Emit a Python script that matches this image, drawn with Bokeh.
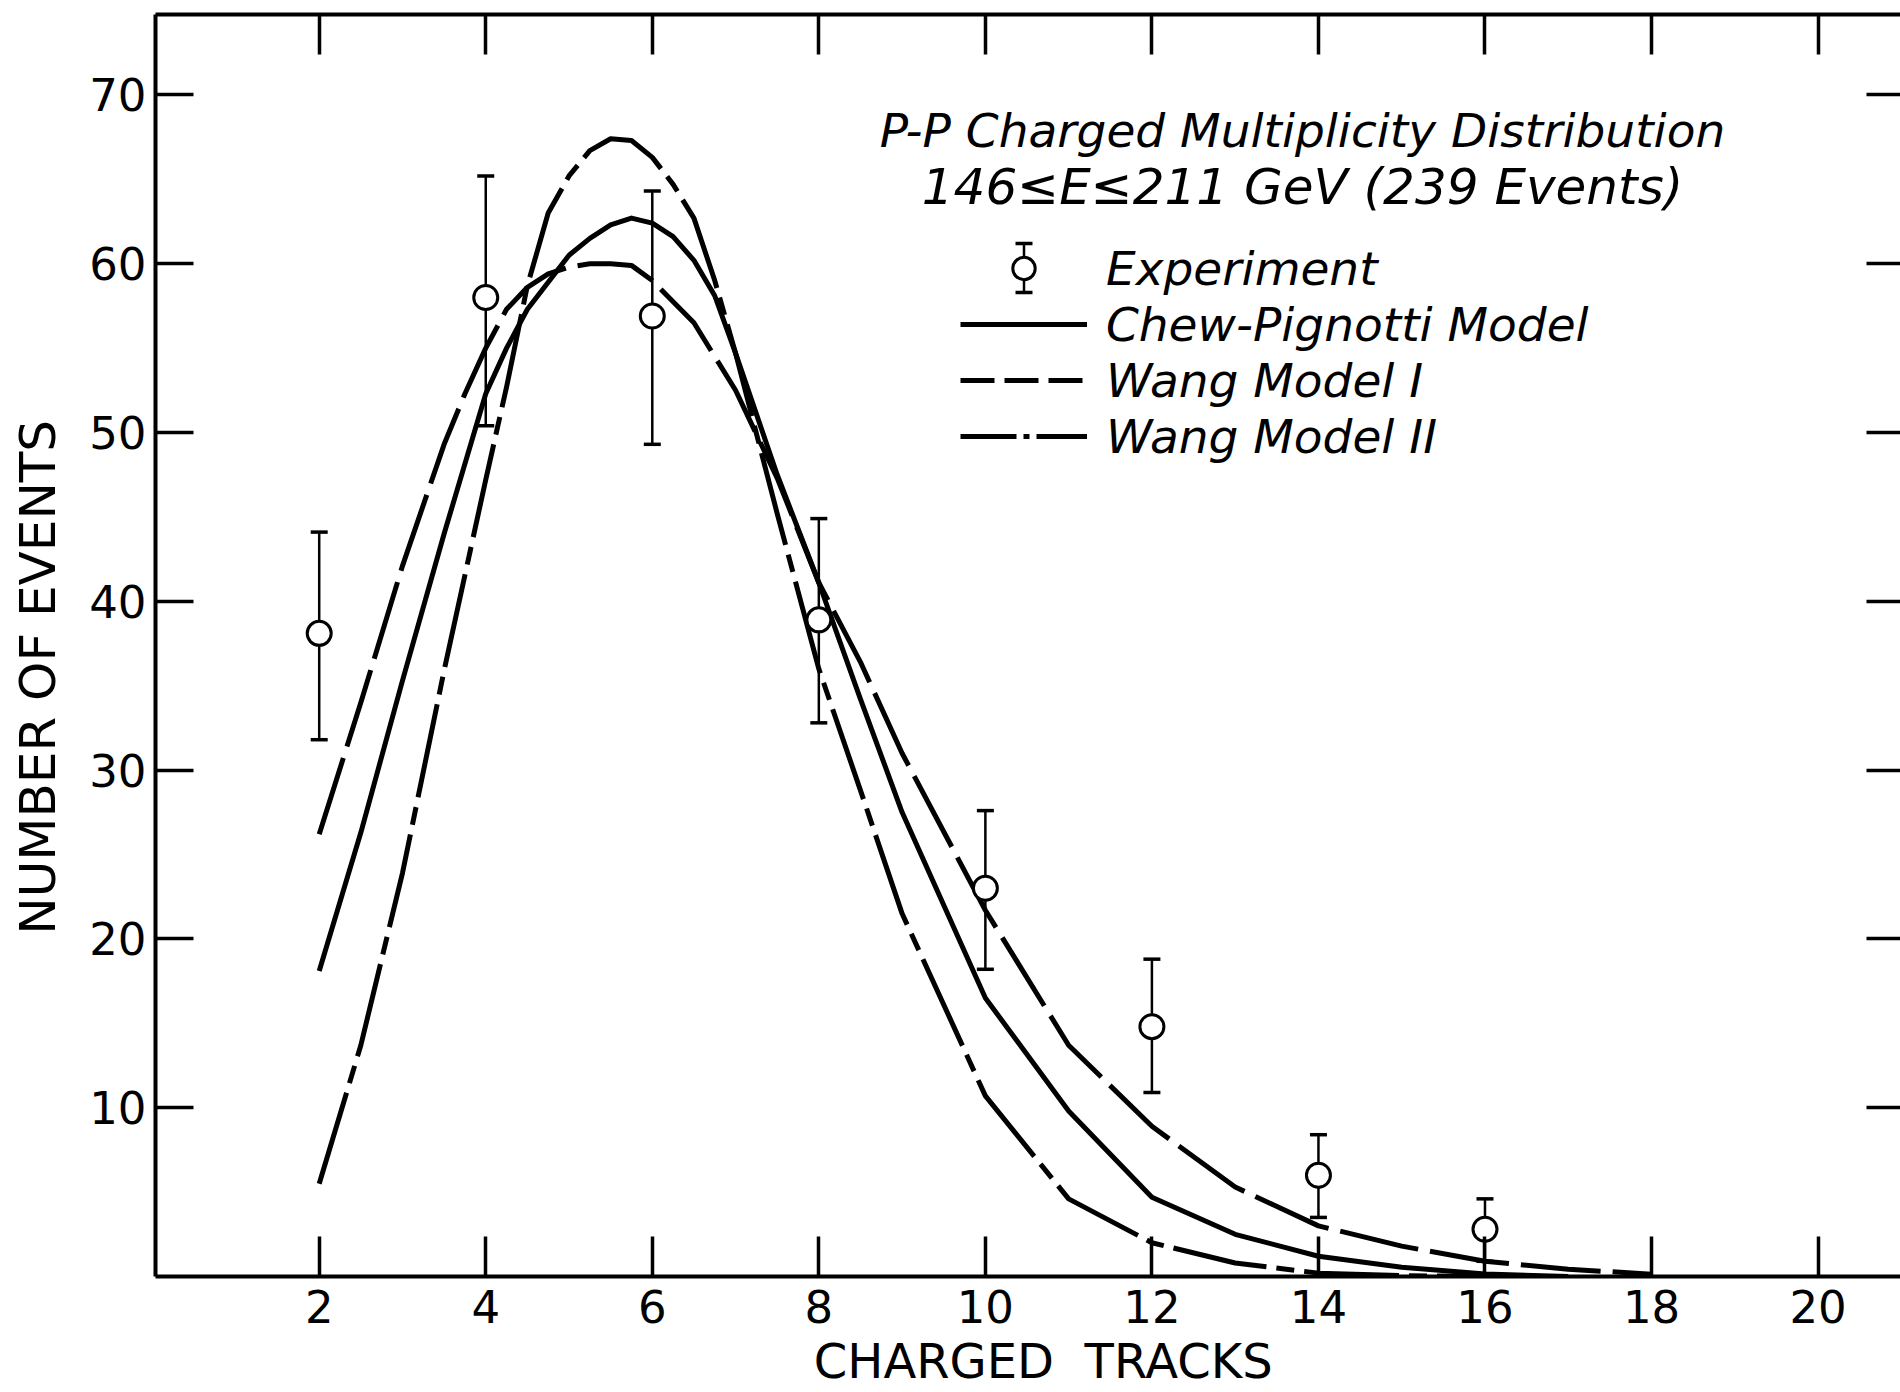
import math
from bokeh.plotting import figure
from bokeh.models import (Range1d, LinearAxis, FixedTicker, ColumnDataSource,
                          Whisker, TeeHead, Label, Legend, LegendItem)
from bokeh.embed import file_html
from bokeh.resources import INLINE

# ---------------- data ----------------
tracks = [2, 4, 6, 8, 10, 12, 14, 16]
events = [38.1, 58.0, 56.9, 38.9, 23.0, 14.8, 6.0, 2.8]
events_upper = [44.1, 65.2, 64.3, 44.9, 27.6, 18.8, 8.4, 4.6]
events_lower = [31.8, 50.4, 49.3, 32.8, 18.2, 10.9, 3.5, 0.9]

cp_x = [2, 2.5, 3, 3.5, 4, 4.25, 4.5, 4.75, 5, 5.25, 5.5, 5.75, 6, 6.25, 6.5, 6.75,
        7, 7.5, 8, 8.5, 9, 10, 11, 12, 13, 14, 15, 16, 17]
cp_y = [18.1, 26.3, 35.3, 44.0, 52.3, 55.0, 57.3, 58.9, 60.5, 61.5, 62.3, 62.7,
        62.4, 61.6, 60.2, 58.1, 54.7, 47.5, 41.1, 34.2, 27.5, 16.5, 9.8, 4.7,
        2.5, 1.2, 0.55, 0.15, 0.0]

wang1_x = [2, 2.5, 3, 3.5, 3.75, 4, 4.25, 4.5, 4.75, 5, 5.25, 5.5, 5.75, 6, 6.5,
           7, 7.5, 8, 8.5, 9, 10, 11, 12, 13, 14, 15, 16, 17, 18]
wang1_y = [26.2, 34.0, 42.1, 49.3, 52.3, 55.0, 57.3, 58.6, 59.4, 59.8, 60.0, 60.0,
           59.9, 59.0, 56.5, 52.5, 47.3, 41.1, 36.4, 31.0, 21.7, 13.7, 8.9, 5.3,
           3.0, 1.8, 0.9, 0.43, 0.14]

wang2_x = [2, 2.5, 3, 3.5, 4, 4.25, 4.5, 4.75, 5, 5.25, 5.5, 5.75, 6, 6.25, 6.5,
           6.75, 7, 7.5, 8, 8.5, 9, 10, 11, 12, 13, 14, 15, 16]
wang2_y = [5.5, 13.7, 23.9, 35.9, 47.2, 52.7, 58.7, 63.0, 65.2, 66.7, 67.4, 67.3,
           66.3, 64.7, 62.7, 59.0, 54.7, 45.2, 36.0, 28.8, 21.5, 10.7, 4.6, 2.0,
           0.8, 0.2, 0.05, 0.0]

x_ticks = [2, 4, 6, 8, 10, 12, 14, 16, 18, 20]
y_ticks = [10, 20, 30, 40, 50, 60, 70]

NBSP = "\u00a0"
title_line1 = "P-P Charged Multiplicity Distribution"
title_line2 = "146≤E≤211 GeV (239 Events)"
x_title = "CHARGED" + NBSP * 2 + "TRACKS"
y_title = "NUMBER OF EVENTS"
labels = ["Experiment", "Chew-Pignotti Model", "Wang Model I", "Wang Model II"]

# ---------------- layout ----------------
FONT = "DejaVu Sans"
W, H = 1900, 1392
BL, BR, BT, BB = 155, 0, 14, 116
PX_PER_X = 83.27
PX_PER_Y = 16.88
X0 = 0.034
X1 = X0 + (W - BL - BR) / PX_PER_X
Y0 = 0.0
Y1 = (H - BT - BB) / PX_PER_Y
FW = W - BL - BR
FH = H - BT - BB


def dx(px):
    return X0 + (px - BL) / FW * (X1 - X0)


def dy(py):
    return Y0 + (H - BB - py) / FH * (Y1 - Y0)


p = figure(width=W, height=H, x_range=Range1d(X0, X1), y_range=Range1d(Y0, Y1),
           output_backend="svg", toolbar_location=None,
           min_border_left=BL, min_border_right=BR,
           min_border_top=BT, min_border_bottom=BB)
p.outline_line_color = None
p.xgrid.visible = False
p.ygrid.visible = False
p.background_fill_color = "white"
p.border_fill_color = "white"


def style_axis(ax, tick_in, show_labels=True, line=True):
    ax.axis_line_width = 4
    ax.axis_line_color = "black" if line else None
    ax.major_tick_line_width = 3.5
    ax.major_tick_line_color = "black"
    ax.major_tick_in = tick_in
    ax.major_tick_out = 0
    ax.minor_tick_in = 0
    ax.minor_tick_out = 0
    ax.minor_tick_line_color = None
    ax.major_label_text_font = FONT
    if show_labels:
        ax.major_label_text_font_size = "45px"
        ax.major_label_text_color = "black"
    else:
        ax.major_label_text_font_size = "1px"
        ax.major_label_text_color = None
        ax.major_label_standoff = 0


xb = p.xaxis[0]
xb.ticker = FixedTicker(ticks=x_ticks)
style_axis(xb, 40)
xb.major_label_standoff = 13
# two leading no-break spaces nudge the centred title to the right, as in the original
xb.axis_label = NBSP * 2 + x_title
xb.axis_label_text_font = FONT
xb.axis_label_text_font_size = "48px"
xb.axis_label_text_font_style = "normal"
xb.axis_label_text_color = "black"
xb.axis_label_standoff = 7

yl = p.yaxis[0]
yl.ticker = FixedTicker(ticks=y_ticks)
style_axis(yl, 38)
yl.major_label_standoff = 9
# trailing no-break spaces move the centred title down a little, as in the original
yl.axis_label = y_title + NBSP * 4
yl.axis_label_text_font = FONT
yl.axis_label_text_font_size = "50px"
yl.axis_label_text_font_style = "normal"
yl.axis_label_text_color = "black"
yl.axis_label_standoff = 19

xt = LinearAxis(ticker=FixedTicker(ticks=x_ticks))
style_axis(xt, 40, show_labels=False)
p.add_layout(xt, "above")

yr = LinearAxis(ticker=FixedTicker(ticks=y_ticks))
style_axis(yr, 34, show_labels=False, line=False)
p.add_layout(yr, "right")

# ---------------- curves ----------------
LW = 5
r_cp = p.line(cp_x, cp_y, line_color="black", line_width=LW, line_join="round")
r_w1 = p.line(wang1_x, wang1_y, line_color="black", line_width=LW, line_dash="80 12",
              line_join="round")
r_w2 = p.line(wang2_x, wang2_y, line_color="black", line_width=LW,
              line_dash="95 10 18 10", line_join="round")

# ---------------- experiment ----------------
src = ColumnDataSource(dict(x=tracks, y=events, upper=events_upper, lower=events_lower))
whisk = Whisker(source=src, base="x", upper="upper", lower="lower", dimension="height",
                line_color="black", line_width=2.5, level="underlay",
                upper_head=TeeHead(size=17, line_width=3.5, line_color="black"),
                lower_head=TeeHead(size=17, line_width=3.5, line_color="black"))
p.add_layout(whisk)
r_exp = p.scatter("x", "y", source=src, marker="circle", size=24,
                  fill_color="white", line_color="black", line_width=3)

# legend-only proxies (the key uses shorter dash patterns)
nan = float("nan")
px_w1 = p.line([nan], [nan], line_color="black", line_width=LW, line_dash="34 10")
px_w2 = p.line([nan], [nan], line_color="black", line_width=LW, line_dash="56 7 6 7")

# ---------------- legend ----------------
LEG_LEFT = 960
LEG_TOP = 240
ROW_H = 56
GLYPH_W = 127
legend = Legend(items=[LegendItem(label=labels[0], renderers=[r_exp]),
                       LegendItem(label=labels[1], renderers=[r_cp]),
                       LegendItem(label=labels[2], renderers=[px_w1]),
                       LegendItem(label=labels[3], renderers=[px_w2])],
                location=(LEG_LEFT - BL, (H - BB) - (LEG_TOP + 4 * ROW_H)),
                orientation="vertical", glyph_width=GLYPH_W, glyph_height=ROW_H,
                label_height=ROW_H, label_standoff=19, spacing=0, padding=0, margin=0,
                border_line_color=None, background_fill_alpha=0,
                label_text_font=FONT, label_text_font_size="47px",
                label_text_font_style="italic", label_text_color="black")
p.add_layout(legend)

# error bar on the key's experiment symbol
leg_src = ColumnDataSource(dict(x=[dx(LEG_LEFT + GLYPH_W / 2)],
                                upper=[dy(LEG_TOP + ROW_H / 2 - 25)],
                                lower=[dy(LEG_TOP + ROW_H / 2 + 24)]))
p.add_layout(Whisker(source=leg_src, base="x", upper="upper", lower="lower",
                     dimension="height", line_color="black", line_width=2.5,
                     level="underlay",
                     upper_head=TeeHead(size=17, line_width=3.5, line_color="black"),
                     lower_head=TeeHead(size=17, line_width=3.5, line_color="black")))

# ---------------- headings ----------------
for txt, cy, fs in ((title_line1, 130, "47px"), (title_line2, 186, "50px")):
    p.add_layout(Label(x=dx(1302), y=dy(cy), text=txt, text_align="center",
                       text_baseline="middle", text_font=FONT, text_font_size=fs,
                       text_font_style="italic", text_color="black"))

open("out.html", "w").write(file_html(p, INLINE))
